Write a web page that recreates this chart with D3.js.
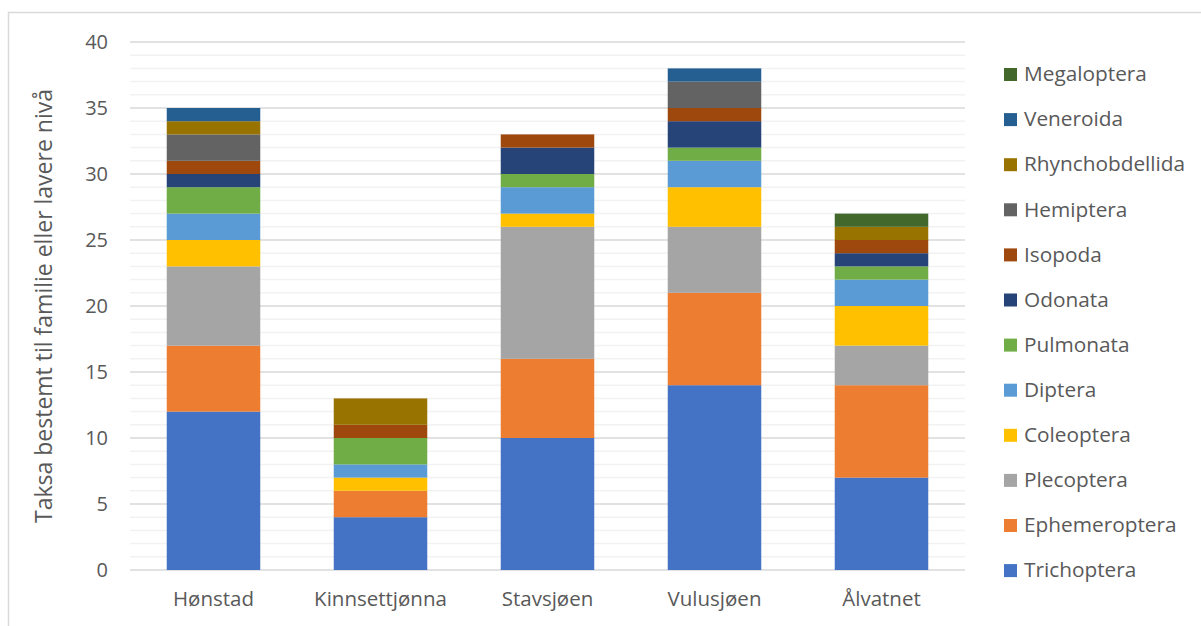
<!DOCTYPE html>
<html lang="no">
<head>
    <meta charset="utf-8">
    <title>Taksa</title>
    <script src="https://d3js.org/d3.v7.min.js"></script>
    <style>
        body { margin: 0; background: #fff; }
        svg text { font-family: "Open Sans", "Liberation Sans", sans-serif; fill: #595959; }
    </style>
</head>
<body>
    <svg id="chart"></svg>

    <script>
        var width = 1201;
        var height = 626;
        var margins = { left: 130, right: 236, top: 42, bottom: 56 };

        var sites = ["Hønstad", "Kinnsettjønna", "Stavsjøen", "Vulusjøen", "Ålvatnet"];
        var orders = ["Trichoptera", "Ephemeroptera", "Plecoptera", "Coleoptera", "Diptera", "Pulmonata",
            "Odonata", "Isopoda", "Hemiptera", "Rhynchobdellida", "Veneroida", "Megaloptera"];
        var colors = ["#4472C4", "#ED7D31", "#A5A5A5", "#FFC000", "#5B9BD5", "#70AD47",
            "#264478", "#9E480E", "#636363", "#997300", "#255E91", "#43682B"];

        // one array per order, values per site in the order of `sites`
        var trichoptera = [12, 4, 10, 14, 7];
        var ephemeroptera = [5, 2, 6, 7, 7];
        var plecoptera = [6, 0, 10, 5, 3];
        var coleoptera = [2, 1, 1, 3, 3];
        var diptera = [2, 1, 2, 2, 2];
        var pulmonata = [2, 2, 1, 1, 1];
        var odonata = [1, 0, 2, 2, 1];
        var isopoda = [1, 1, 1, 1, 1];
        var hemiptera = [2, 0, 0, 2, 0];
        var rhynchobdellida = [1, 2, 0, 0, 1];
        var veneroida = [1, 0, 0, 1, 0];
        var megaloptera = [0, 0, 0, 0, 1];

        var yTicks = [0, 5, 10, 15, 20, 25, 30, 35, 40];

        var series = [trichoptera, ephemeroptera, plecoptera, coleoptera, diptera, pulmonata,
            odonata, isopoda, hemiptera, rhynchobdellida, veneroida, megaloptera];

        var table = sites.map(function (s, i) {
            var row = { site: s };
            orders.forEach(function (o, j) { row[o] = series[j][i]; });
            return row;
        });
        var stacked = d3.stack().keys(orders)(table);

        var svg = d3.select("#chart")
            .attr("width", width)
            .attr("height", height);

        // chart border
        svg.append("rect")
            .attr("x", 8.5).attr("y", 12.5)
            .attr("width", width).attr("height", height)
            .attr("fill", "none")
            .attr("stroke", "#d9d9d9")
            .attr("stroke-width", 1.5);

        var xscale = d3.scaleBand()
            .domain(sites)
            .range([margins.left, width - margins.right])
            .paddingInner(0.44)
            .paddingOuter(0.22);
        var yscale = d3.scaleLinear()
            .domain([0, 40])
            .range([height - margins.bottom, margins.top]);

        // minor gridlines
        svg.append("g").selectAll("line")
            .data(d3.range(0, 41).filter(function (v) { return v % 5 !== 0; }))
            .enter().append("line")
            .attr("x1", margins.left).attr("x2", width - margins.right)
            .attr("y1", function (d) { return yscale(d); })
            .attr("y2", function (d) { return yscale(d); })
            .attr("stroke", "#f2f2f2")
            .attr("stroke-width", 1.5);

        // major gridlines
        svg.append("g").selectAll("line")
            .data(yTicks)
            .enter().append("line")
            .attr("x1", margins.left).attr("x2", width - margins.right)
            .attr("y1", function (d) { return yscale(d); })
            .attr("y2", function (d) { return yscale(d); })
            .attr("stroke", "#d9d9d9")
            .attr("stroke-width", 1.5);

        svg.append("g").selectAll("g")
            .data(stacked)
            .enter().append("g")
            .attr("fill", function (d, i) { return colors[i]; })
            .selectAll("rect")
            .data(function (d) { return d; })
            .enter().append("rect")
            .attr("x", function (d) { return xscale(d.data.site); })
            .attr("y", function (d) { return yscale(d[1]); })
            .attr("width", xscale.bandwidth())
            .attr("height", function (d) { return yscale(d[0]) - yscale(d[1]); });

        // y axis labels
        var yaxis = d3.axisLeft(yscale).tickValues(yTicks).tickSize(0).tickPadding(22);
        var yg = svg.append("g")
            .attr("transform", "translate(" + margins.left + ",0)")
            .call(yaxis);
        yg.select(".domain").remove();
        yg.selectAll("text").attr("font-size", 20).style("fill", "#595959");

        // x axis labels
        var xaxis = d3.axisBottom(xscale).tickSize(0).tickPadding(21);
        var xg = svg.append("g")
            .attr("transform", "translate(0," + (height - margins.bottom) + ")")
            .call(xaxis);
        xg.select(".domain").remove();
        xg.selectAll("text").attr("font-size", 20.5).style("fill", "#595959");

        svg.append("text")
            .attr("transform", "translate(52," + ((margins.top + height - margins.bottom) / 2) + ") rotate(-90)")
            .attr("text-anchor", "middle")
            .attr("font-size", 23)
            .text("Taksa bestemt til familie eller lavere nivå");

        // legend, top entry is the last order
        var legend = svg.append("g").selectAll("g")
            .data(orders.slice().reverse())
            .enter().append("g")
            .attr("transform", function (d, i) { return "translate(1004," + (74 + i * 45.1) + ")"; });
        legend.append("rect")
            .attr("x", 0).attr("y", -6)
            .attr("width", 13).attr("height", 13)
            .attr("fill", function (d) { return colors[orders.indexOf(d)]; });
        legend.append("text")
            .attr("x", 20).attr("y", 0)
            .attr("dy", "0.35em")
            .attr("font-size", 20.8)
            .text(function (d) { return d; });
    </script>
</body>
</html>
